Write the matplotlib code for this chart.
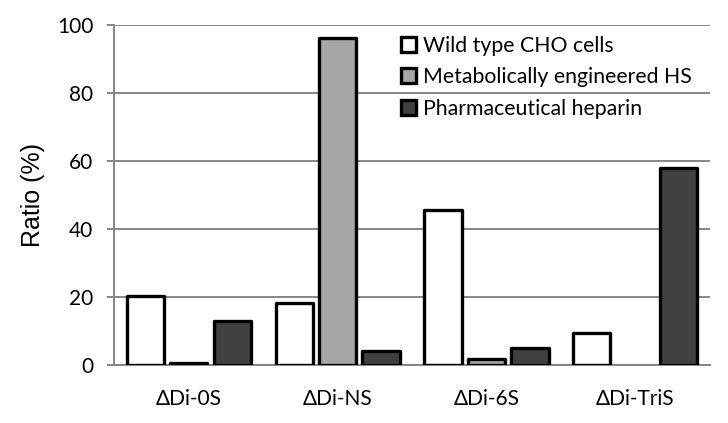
import matplotlib
matplotlib.use("Agg")
import matplotlib.pyplot as plt
import numpy as np
from matplotlib.patches import Patch

categories = ["ΔDi-0S", "ΔDi-NS", "ΔDi-6S", "ΔDi-TriS"]
series_names = ["Wild type CHO cells", "Metabolically engineered HS", "Pharmaceutical heparin"]
wild_type = [20.3, 18.2, 45.5, 9.3]
engineered = [0.5, 96.1, 1.8, 0.0]
heparin = [13.0, 4.1, 5.1, 58.0]
yticks = [0, 20, 40, 60, 80, 100]

colors = ["#ffffff", "#a6a6a6", "#404040"]
font = "Lato"

fig = plt.figure(figsize=(7.28, 4.23), dpi=100)
ax = fig.add_axes([0.157, 0.137, 0.818, 0.804])

x = np.arange(len(categories))
offsets = [-0.292, 0.0, 0.292]
width = 0.25
for vals, off, c in zip([wild_type, engineered, heparin], offsets, colors):
    for xi, v in zip(x, vals):
        if v > 0:
            ax.bar(xi + off, v, width, color=c, edgecolor="black", linewidth=2.4,
                   joinstyle="round", zorder=3)

ax.set_xlim(-0.5, len(categories) - 0.5)
ax.set_ylim(0, 100)
ax.set_yticks(yticks)
ax.yaxis.grid(True, color="#868686", linewidth=1.4, zorder=0)
ax.set_axisbelow(True)
for s in ["top", "right"]:
    ax.spines[s].set_visible(False)
for s in ["left", "bottom"]:
    ax.spines[s].set_color("#868686")
    ax.spines[s].set_linewidth(1.4)
ax.set_xticks(x)
ax.set_xticklabels(categories, fontfamily=font, fontsize=15)
ax.tick_params(axis="x", length=0, pad=17)
ax.tick_params(axis="y", length=5, color="#868686", width=1.4, pad=10, labelsize=15)
for lab in ax.get_yticklabels():
    lab.set_fontfamily(font)
ax.set_ylabel("Ratio (%)", fontfamily="Liberation Sans", fontsize=18, labelpad=9)

handles = [Patch(facecolor=c, edgecolor="black", linewidth=2.4) for c in colors]
leg = ax.legend(handles, series_names, loc="upper right", bbox_to_anchor=(0.987, 1.0),
                frameon=False, prop={"family": font, "size": 15.3},
                handlelength=0.7, handleheight=0.7, handletextpad=0.3,
                labelspacing=0.55, borderaxespad=0.1)

fig.savefig("out.png", dpi=100)
